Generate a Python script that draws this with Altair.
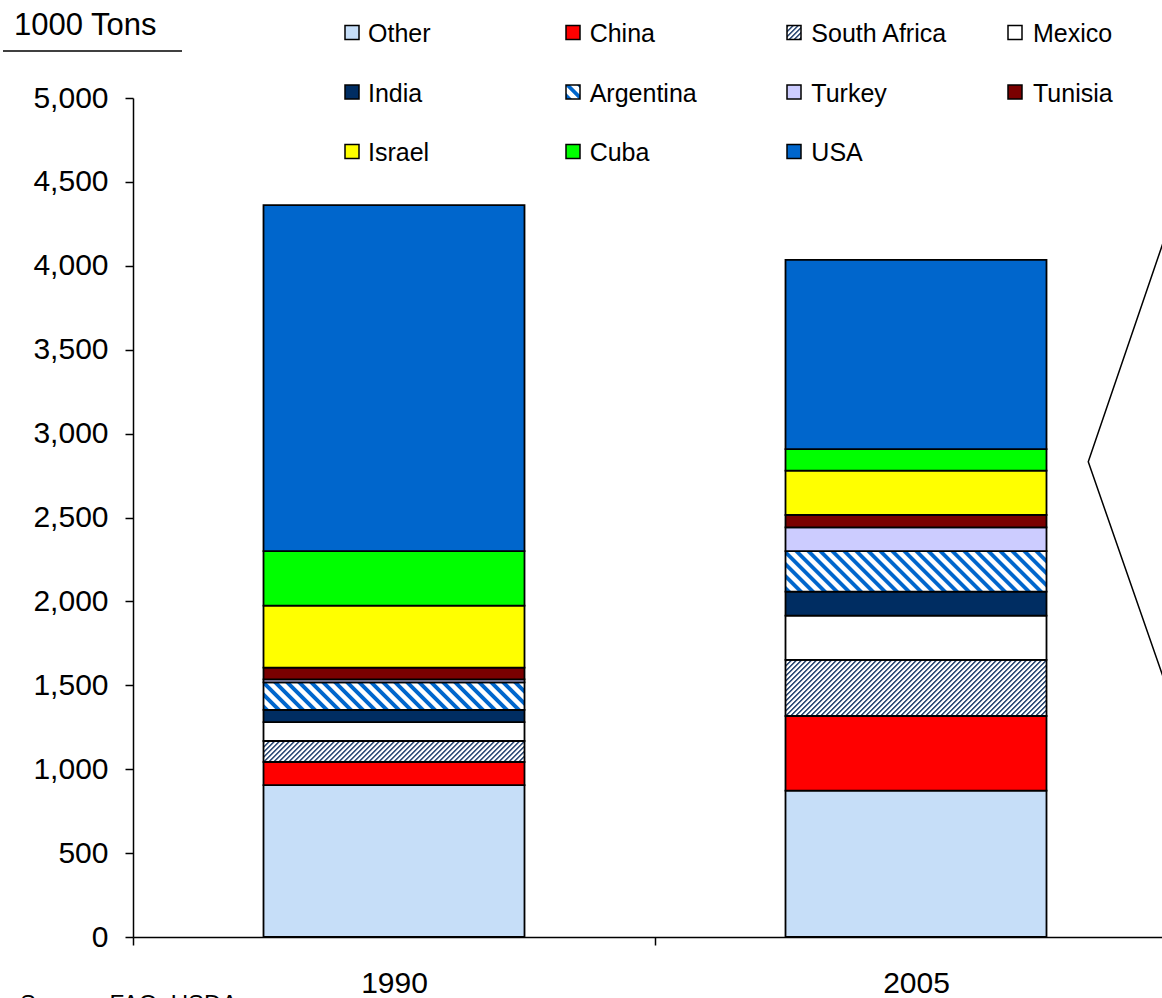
import math
import altair as alt

# ---------------- data ----------------
countries = ["Other", "China", "South Africa", "Mexico", "India", "Argentina",
             "Turkey", "Tunisia", "Israel", "Cuba", "USA"]
years = ["1990", "2005"]
v1990 = [905, 138, 125, 113, 72, 165, 17, 70, 370, 325, 2062]
v2005 = [872, 445, 334, 264, 143, 242, 141, 74, 264, 129, 1127]
y_ticks = [0, 500, 1000, 1500, 2000, 2500, 3000, 3500, 4000, 4500, 5000]

# callout lines at the right edge (x in category units, y in 1000 tons)
callout_x = [1.975, 1.830, 1.975]
callout_y = [4153, 2832, 1535]

# legend layout (row-major, 4 columns)
legend_cols = 4

# ---------------- styles ----------------
FONT = "Liberation Sans"
solid = {
    "Other": "#C6DEF8", "China": "#FF0000", "Mexico": "#FFFFFF",
    "India": "#002D62", "Turkey": "#CCCCFF", "Tunisia": "#7A0000",
    "Israel": "#FFFF00", "Cuba": "#00FF00", "USA": "#0066CC",
}
W_PX, H_PX = 1029, 839
UNIT = 522.0                      # px per category band
XMAX = W_PX / UNIT
PX_PER_TON = H_PX / 5000.0
BAR_HALF = 0.25                   # half bar width in band units
BAR_W_PX = 2 * BAR_HALF * UNIT


def stripe_paint(W, H, period, ink, paper, ink_frac, direction):
    S = W + H
    k = S / (W * W + H * H)
    if direction == "down":       # "\" stripes
        x1, y1, x2, y2 = 0, 1, k * W, 1 - k * H
    else:                         # "/" stripes
        x1, y1, x2, y2 = 0, 0, k * W, k * H
    soft = 0.12
    pattern = [(0.0, paper), (soft, ink), (ink_frac, ink),
               (ink_frac + soft, paper), (1.0, paper)]
    stops = []
    n = int(math.ceil(S / period))
    for i in range(n):
        for f, col in pattern:
            off = min(1.0, (i + f) * period / S)
            stops.append({"offset": round(off, 5), "color": col})
    return {"gradient": "linear", "x1": x1, "y1": y1, "x2": x2, "y2": y2,
            "stops": stops}


def paint_for(country, W, H):
    if country == "Argentina":
        return stripe_paint(W, H, 12, "#0066CC", "#FFFFFF", 0.45, "down")
    if country == "South Africa":
        return stripe_paint(W, H, 5, "#2D4A75", "#FFFFFF", 0.42, "up")
    return solid[country]


# ---------------- tables ----------------
bar_rows = []
for yi, (year, vals) in enumerate(zip(years, [v1990, v2005])):
    base = 0
    for c, v in zip(countries, vals):
        bar_rows.append({
            "year": year, "pos": yi + 0.5, "country": c, "value": v,
            "y0": base, "y1": base + v,
            "paint": paint_for(c, BAR_W_PX, v * PX_PER_TON),
        })
        base += v

leg_rows = []
for i, c in enumerate(countries):
    leg_rows.append({"name": c, "col": i % legend_cols, "row": i // legend_cols,
                     "paint": paint_for(c, 14, 14)})

call_rows = [{"i": i, "cx": x, "cy": y} for i, (x, y) in enumerate(zip(callout_x, callout_y))]

# ---------------- chart ----------------
xscale = alt.Scale(domain=[0, XMAX], nice=False, zero=False)
yscale = alt.Scale(domain=[0, 5000], nice=False)

xaxis = alt.Axis(
    values=[0, 1], labelOffset=0.5 * UNIT,
    labelExpr="datum.value == 0 ? '1990' : '2005'",
    title=None, grid=False, tickSize=8, tickWidth=1.5, tickColor="black",
    domainColor="black", domainWidth=1.5, labelPadding=23, labelFontSize=30,
    labelFont=FONT, labelColor="black", labelFlush=False, labelOverlap=False,
    labelBound=False,
)
yaxis = alt.Axis(
    values=y_ticks, format=",.0f", title=None, grid=False, tickSize=8,
    tickWidth=1.5, tickColor="black", domainColor="black", domainWidth=1.5,
    labelPadding=17, labelFontSize=30, labelFont=FONT, labelColor="black",
    labelFlush=False, labelOverlap=False,
)

bars = alt.Chart(alt.Data(values=bar_rows)).transform_calculate(
    xa=f"datum.pos - {BAR_HALF}", xb=f"datum.pos + {BAR_HALF}"
).mark_rect(stroke="black", strokeWidth=1.8).encode(
    x=alt.X("xa:Q", scale=xscale, axis=xaxis),
    x2="xb:Q",
    y=alt.Y("y0:Q", scale=yscale, axis=yaxis),
    y2="y1:Q",
    fill=alt.Fill("paint:N", scale=None),
)

callout = alt.Chart(alt.Data(values=call_rows)).mark_line(
    color="black", strokeWidth=1.5, clip=True
).encode(
    x=alt.X("cx:Q", scale=xscale, axis=None),
    y=alt.Y("cy:Q", scale=yscale, axis=None),
    order=alt.Order("i:Q"),
)

unit_title = alt.Chart(alt.Data(values=[{"t": "1000 Tons"}])).mark_text(
    align="left", baseline="alphabetic", fontSize=31, font=FONT, color="black"
).encode(x=alt.value(-119), y=alt.value(-63.5), text="t:N")

underline = alt.Chart(alt.Data(values=[{"t": 1}])).mark_rule(
    color="black", strokeWidth=1.5
).encode(x=alt.value(-130), x2=alt.value(49), y=alt.value(-47))

source = alt.Chart(alt.Data(values=[{"t": "Source: FAO, USDA"}])).mark_text(
    align="left", baseline="top", fontSize=24, font=FONT, color="black"
).encode(x=alt.value(-113), y=alt.value(895), text="t:N")

leg_x_sq = alt.Scale(domain=[0, 3], range=[219, 882])
leg_x_tx = alt.Scale(domain=[0, 3], range=[235, 900])
leg_y = alt.Scale(domain=[0, 2], range=[-65.5, 53.5])

leg_squares = alt.Chart(alt.Data(values=leg_rows)).mark_square(
    size=196, stroke="black", strokeWidth=1.5, opacity=1, filled=True
).encode(
    x=alt.X("col:Q", scale=leg_x_sq, axis=None),
    y=alt.Y("row:Q", scale=leg_y, axis=None),
    fill=alt.Fill("paint:N", scale=None),
)

leg_text = alt.Chart(alt.Data(values=leg_rows)).mark_text(
    align="left", baseline="alphabetic", dy=9.5, fontSize=25, font=FONT,
    color="black"
).encode(
    x=alt.X("col:Q", scale=leg_x_tx, axis=None),
    y=alt.Y("row:Q", scale=leg_y, axis=None),
    text="name:N",
)

chart = alt.layer(
    bars, callout, unit_title, underline, source, leg_squares, leg_text
).resolve_scale(
    x="independent", y="independent"
).properties(
    width=W_PX, height=H_PX,
    autosize=alt.AutoSizeParams(type="none"),
    padding={"left": 133, "top": 98, "right": 0, "bottom": 61},
    background="white",
).configure_view(stroke=None)

chart.save("out.html", embed_options={"renderer": "svg", "actions": False})
